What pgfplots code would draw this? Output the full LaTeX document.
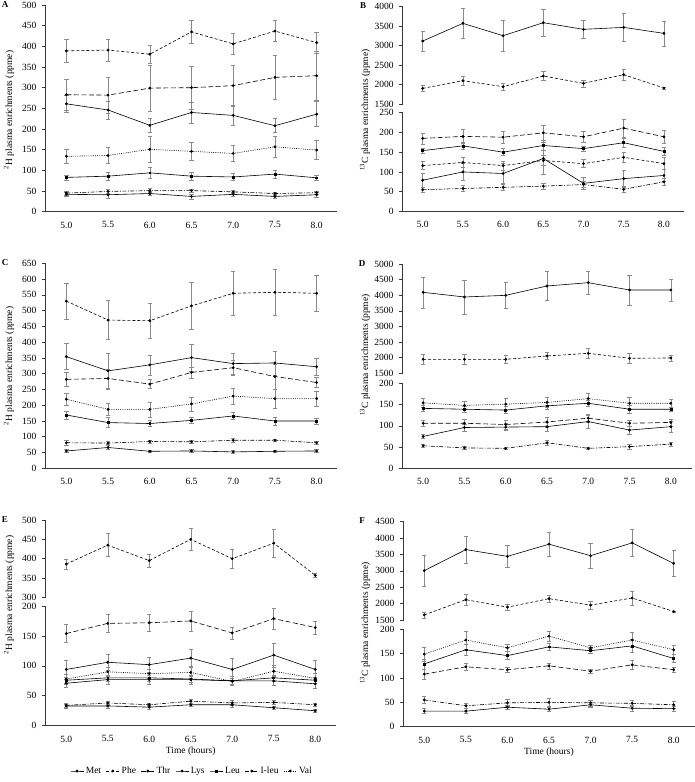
\documentclass[border=0pt]{standalone}
\usepackage{fontspec}
\setmainfont{Liberation Serif}
\usepackage{pgfplots}
\pgfplotsset{compat=1.18}

\definecolor{ax}{HTML}{3A3A3A}
\definecolor{errc}{HTML}{8A8A8A}

\pgfplotsset{
  panel/.style={
    scale only axis, clip=false,
    xmin=4.75, xmax=8.25,
    axis x line*=bottom, axis y line*=left,
    axis line style={draw=ax, line width=0.6pt, -},
    xtick={5,5.5,6,6.5,7,7.5,8},
    xticklabels={5.0,5.5,6.0,6.5,7.0,7.5,8.0},
    x tick style={draw=none},
    y tick style={draw=ax, line width=0.6pt},
    tick align=outside, major tick length=3.5pt,
    tick label style={font=\fontsize{9.5}{11}\selectfont},
    yticklabel style={xshift=-2pt},
    xticklabel style={yshift=-3pt},
    /pgf/number format/assume math mode=true,
    /pgf/number format/1000 sep={},
    xlabel style={font=\fontsize{9.5}{11}\selectfont, yshift=2pt},
  },
  upper/.style={panel, hide x axis},
  mk/.style={black, line width=0.6pt, mark=*, mark size=1.1pt, mark options={solid}},
  eb/.style={
    /pgfplots/error bars/y dir=both,
    /pgfplots/error bars/y explicit,
    /pgfplots/error bars/error bar style={errc, line width=0.5pt, solid},
    /pgfplots/error bars/error mark options={rotate=90, errc, mark size=2.2pt, line width=0.5pt, solid}},
  Met/.style={mk},
  Phe/.style={mk, dash pattern=on 3pt off 2pt},
  Thr/.style={mk, dash pattern=on 5pt off 2.5pt},
  Lys/.style={mk},
  Leu/.style={mk, mark=square*, mark size=0.95pt},
  Ile/.style={mk, dash pattern=on 4pt off 1.5pt on 1pt off 1.5pt},
  Val/.style={mk, dash pattern=on 1pt off 1.2pt},
}

\begin{document}
\begin{tikzpicture}
\useasboundingbox (0,0) rectangle (695pt,-782pt);

% ---------- A : 2H ----------
\begin{axis}[panel, at={(45.5pt,-211.7pt)}, anchor=south west,
  width=292pt, height=206.7pt, ymin=0, ymax=500, ytick={0,50,...,500}]
  \addplot[Phe,eb] coordinates {(5.0,389)+-(0,27) (5.5,391)+-(0,26) (6.0,381)+-(0,22) (6.5,435)+-(0,28) (7.0,406)+-(0,25) (7.5,437)+-(0,25) (8.0,409)+-(0,25)};
  \addplot[Thr,eb] coordinates {(5.0,283)+-(0,37) (5.5,282)+-(0,44) (6.0,299)+-(0,55) (6.5,300)+-(0,52) (7.0,305)+-(0,50) (7.5,325)+-(0,54) (8.0,329)+-(0,60)};
  \addplot[Lys,eb] coordinates {(5.0,261)+-(0,20) (5.5,246)+-(0,22) (6.0,209)+-(0,17) (6.5,240)+-(0,25) (7.0,233)+-(0,25) (7.5,208)+-(0,17) (8.0,236)+-(0,30)};
  \addplot[Val,eb] coordinates {(5.0,134)+-(0,17) (5.5,136)+-(0,19) (6.0,151)+-(0,32) (6.5,146)+-(0,22) (7.0,141)+-(0,20) (7.5,157)+-(0,25) (8.0,149)+-(0,23)};
  \addplot[Leu,eb] coordinates {(5.0,83)+-(0,6) (5.5,86)+-(0,10) (6.0,94)+-(0,14) (6.5,86)+-(0,10) (7.0,84)+-(0,8) (7.5,91)+-(0,10) (8.0,82)+-(0,7)};
  \addplot[Ile,eb] coordinates {(5.0,45)+-(0,4) (5.5,49)+-(0,5) (6.0,51)+-(0,5) (6.5,51)+-(0,4) (7.0,48)+-(0,4) (7.5,44)+-(0,4) (8.0,46)+-(0,4)};
  \addplot[Met,eb] coordinates {(5.0,42)+-(0,4) (5.5,41)+-(0,8) (6.0,44)+-(0,5) (6.5,37)+-(0,6) (7.0,42)+-(0,5) (7.5,37)+-(0,5) (8.0,41)+-(0,5)};
\end{axis}

% ---------- B : 13C ----------
\begin{axis}[upper, at={(402.6pt,-104pt)}, anchor=south west,
  width=281.4pt, height=97.3pt, ymin=1500, ymax=4000, ytick={1500,2000,...,4000}]
  \addplot[Lys,eb] coordinates {(5.0,3118)+-(0,257) (5.5,3572)+-(0,377) (6.0,3255)+-(0,398) (6.5,3589)+-(0,350) (7.0,3418)+-(0,223) (7.5,3469)+-(0,351) (8.0,3315)+-(0,321)};
  \addplot[Phe,eb] coordinates {(5.0,1902)+-(0,70) (5.5,2099)+-(0,120) (6.0,1945)+-(0,100) (6.5,2219)+-(0,120) (7.0,2031)+-(0,90) (7.5,2253)+-(0,150) (8.0,1911)+-(0,20)};
\end{axis}
\begin{axis}[panel, at={(402.6pt,-211.4pt)}, anchor=south west,
  width=281.4pt, height=98.7pt, ymin=0, ymax=250, ytick={0,50,...,250}]
  \addplot[Thr,eb] coordinates {(5.0,185)+-(0,14) (5.5,190)+-(0,17) (6.0,188)+-(0,15) (6.5,199)+-(0,18) (7.0,189)+-(0,15) (7.5,211)+-(0,22) (8.0,189)+-(0,17)};
  \addplot[Leu,eb] coordinates {(5.0,154)+-(0,6) (5.5,166)+-(0,8) (6.0,150)+-(0,9) (6.5,167)+-(0,12) (7.0,159)+-(0,7) (7.5,174)+-(0,11) (8.0,152)+-(0,10)};
  \addplot[Phe,eb] coordinates {(5.0,116)+-(0,10) (5.5,124)+-(0,13) (6.0,116)+-(0,11) (6.5,129)+-(0,12) (7.0,121)+-(0,10) (7.5,137)+-(0,13) (8.0,121)+-(0,15)};
  \addplot[Met,eb] coordinates {(5.0,79)+-(0,18) (5.5,100)+-(0,22) (6.0,96)+-(0,25) (6.5,134)+-(0,40) (7.0,71)+-(0,15) (7.5,83)+-(0,22) (8.0,91)+-(0,15)};
  \addplot[Ile,eb] coordinates {(5.0,55)+-(0,7) (5.5,58)+-(0,7) (6.0,61)+-(0,8) (6.5,64)+-(0,7) (7.0,68)+-(0,8) (7.5,56)+-(0,8) (8.0,75)+-(0,9)};
\end{axis}

% ---------- C : 2H ----------
\begin{axis}[panel, at={(45.5pt,-468.3pt)}, anchor=south west,
  width=292pt, height=205pt, ymin=0, ymax=650, ytick={0,50,...,650}]
  \addplot[Phe,eb] coordinates {(5.0,530)+-(0,58) (5.5,470)+-(0,62) (6.0,468)+-(0,56) (6.5,515)+-(0,74) (7.0,555)+-(0,70) (7.5,558)+-(0,72) (8.0,555)+-(0,57)};
  \addplot[Lys,eb] coordinates {(5.0,354)+-(0,41) (5.5,309)+-(0,57) (6.0,328)+-(0,32) (6.5,351)+-(0,43) (7.0,332)+-(0,33) (7.5,334)+-(0,38) (8.0,322)+-(0,26)};
  \addplot[Thr,eb] coordinates {(5.0,282)+-(0,22) (5.5,285)+-(0,30) (6.0,267)+-(0,14) (6.5,304)+-(0,18) (7.0,319)+-(0,24) (7.5,291)+-(0,40) (8.0,272)+-(0,16)};
  \addplot[Val,eb] coordinates {(5.0,219)+-(0,20) (5.5,187)+-(0,20) (6.0,187)+-(0,24) (6.5,204)+-(0,22) (7.0,229)+-(0,26) (7.5,221)+-(0,30) (8.0,221)+-(0,24)};
  \addplot[Leu,eb] coordinates {(5.0,169)+-(0,12) (5.5,145)+-(0,16) (6.0,142)+-(0,10) (6.5,152)+-(0,9) (7.0,166)+-(0,12) (7.5,150)+-(0,12) (8.0,150)+-(0,10)};
  \addplot[Ile,eb] coordinates {(5.0,81)+-(0,7) (5.5,80)+-(0,5) (6.0,85)+-(0,5) (6.5,84)+-(0,6) (7.0,89)+-(0,5) (7.5,89)+-(0,4) (8.0,81)+-(0,5)};
  \addplot[Met,eb] coordinates {(5.0,55)+-(0,4) (5.5,66)+-(0,6) (6.0,54)+-(0,3) (6.5,55)+-(0,4) (7.0,52)+-(0,4) (7.5,54)+-(0,4) (8.0,55)+-(0,4)};
\end{axis}

% ---------- D : 13C ----------
\begin{axis}[upper, at={(402.5pt,-373.3pt)}, anchor=south west,
  width=289pt, height=109.3pt, ymin=1500, ymax=5000, ytick={1500,2000,...,5000}]
  \addplot[Lys,eb] coordinates {(5.0,4093)+-(0,496) (5.5,3944)+-(0,550) (6.0,3997)+-(0,420) (6.5,4296)+-(0,460) (7.0,4402)+-(0,357) (7.5,4168)+-(0,475) (8.0,4168)+-(0,352)};
  \addplot[Phe,eb] coordinates {(5.0,1948)+-(0,160) (5.5,1948)+-(0,160) (6.0,1948)+-(0,120) (6.5,2055)+-(0,120) (7.0,2140)+-(0,150) (7.5,1980)+-(0,160) (8.0,1991)+-(0,100)};
\end{axis}
\begin{axis}[panel, at={(402.5pt,-468.3pt)}, anchor=south west,
  width=289pt, height=85pt, ymin=0, ymax=200, ytick={0,50,...,200}]
  \addplot[Val,eb] coordinates {(5.0,154)+-(0,10) (5.5,148)+-(0,10) (6.0,151)+-(0,14) (6.5,155)+-(0,12) (7.0,164)+-(0,12) (7.5,153)+-(0,14) (8.0,153)+-(0,10)};
  \addplot[Leu,eb] coordinates {(5.0,141)+-(0,7) (5.5,139)+-(0,7) (6.0,137)+-(0,8) (6.5,147)+-(0,8) (7.0,153)+-(0,8) (7.5,139)+-(0,9) (8.0,139)+-(0,5)};
  \addplot[Thr,eb] coordinates {(5.0,106)+-(0,8) (5.5,106)+-(0,10) (6.0,103)+-(0,10) (6.5,109)+-(0,12) (7.0,118)+-(0,10) (7.5,106)+-(0,8) (8.0,108)+-(0,8)};
  \addplot[Met,eb] coordinates {(5.0,75)+-(0,5) (5.5,96)+-(0,8) (6.0,97)+-(0,8) (6.5,98)+-(0,10) (7.0,110)+-(0,15) (7.5,90)+-(0,10) (8.0,98)+-(0,12)};
  \addplot[Ile,eb] coordinates {(5.0,53)+-(0,3) (5.5,48)+-(0,4) (6.0,47)+-(0,3) (6.5,60)+-(0,5) (7.0,47)+-(0,3) (7.5,51)+-(0,5) (8.0,57)+-(0,4)};
\end{axis}

% ---------- E : 2H ----------
\begin{axis}[upper, at={(45.5pt,-597.3pt)}, anchor=south west,
  width=290.5pt, height=77.3pt, ymin=300, ymax=500, ytick={300,350,...,500}]
  \addplot[Phe,eb] coordinates {(5.0,386)+-(0,13) (5.5,435)+-(0,30) (6.0,395)+-(0,17) (6.5,450)+-(0,29) (7.0,400)+-(0,25) (7.5,440)+-(0,36) (8.0,357)+-(0,6)};
\end{axis}
\begin{axis}[panel, at={(45.5pt,-725.7pt)}, anchor=south west,
  width=290.5pt, height=119.7pt, ymin=0, ymax=200, ytick={0,50,...,200},
  xlabel={Time (hours)}]
  \addplot[Thr,eb] coordinates {(5.0,154)+-(0,15) (5.5,171)+-(0,15) (6.0,172)+-(0,14) (6.5,175)+-(0,17) (7.0,155)+-(0,10) (7.5,179)+-(0,17) (8.0,164)+-(0,11)};
  \addplot[Lys,eb] coordinates {(5.0,94)+-(0,16) (5.5,106)+-(0,13) (6.0,102)+-(0,12) (6.5,113)+-(0,15) (7.0,94)+-(0,18) (7.5,118)+-(0,20) (8.0,94)+-(0,16)};
  \addplot[Val,eb] coordinates {(5.0,78)+-(0,8) (5.5,90)+-(0,8) (6.0,87)+-(0,8) (6.5,89)+-(0,10) (7.0,74)+-(0,6) (7.5,91)+-(0,10) (8.0,79)+-(0,8)};
  \addplot[Leu,eb] coordinates {(5.0,76)+-(0,5) (5.5,80)+-(0,5) (6.0,80)+-(0,5) (6.5,78)+-(0,5) (7.0,75)+-(0,5) (7.5,80)+-(0,5) (8.0,76)+-(0,5)};
  \addplot[Met,eb] coordinates {(5.0,71)+-(0,7) (5.5,77)+-(0,7) (6.0,77)+-(0,7) (6.5,77)+-(0,7) (7.0,75)+-(0,7) (7.5,75)+-(0,7) (8.0,70)+-(0,7)};
  \addplot[Ile,eb] coordinates {(5.0,34)+-(0,3) (5.5,38)+-(0,3) (6.0,35)+-(0,3) (6.5,41)+-(0,4) (7.0,38)+-(0,4) (7.5,39)+-(0,3) (8.0,35)+-(0,3)};
  \addplot[Met,eb] coordinates {(5.0,33)+-(0,3) (5.5,33)+-(0,3) (6.0,31)+-(0,3) (6.5,35)+-(0,3) (7.0,35)+-(0,4) (7.5,30)+-(0,3) (8.0,25)+-(0,3)};
\end{axis}

% ---------- F : 13C ----------
\begin{axis}[upper, at={(403.5pt,-620pt)}, anchor=south west,
  width=291pt, height=98.3pt, ymin=1500, ymax=4500, ytick={1500,2000,...,4500}]
  \addplot[Lys,eb] coordinates {(5.0,3008)+-(0,465) (5.5,3649)+-(0,413) (6.0,3442)+-(0,340) (6.5,3814)+-(0,366) (7.0,3463)+-(0,387) (7.5,3855)+-(0,413) (8.0,3225)+-(0,398)};
  \addplot[Phe,eb] coordinates {(5.0,1655)+-(0,90) (5.5,2120)+-(0,170) (6.0,1893)+-(0,80) (6.5,2151)+-(0,110) (7.0,1955)+-(0,120) (7.5,2172)+-(0,210) (8.0,1758)+-(0,20)};
\end{axis}
\begin{axis}[panel, at={(403.5pt,-726.7pt)}, anchor=south west,
  width=291pt, height=97.4pt, ymin=0, ymax=200, ytick={0,50,...,200},
  xlabel={Time (hours)}]
  \addplot[Val,eb] coordinates {(5.0,149)+-(0,14) (5.5,178)+-(0,18) (6.0,162)+-(0,8) (6.5,186)+-(0,10) (7.0,162)+-(0,5) (7.5,178)+-(0,15) (8.0,158)+-(0,10)};
  \addplot[Leu,eb] coordinates {(5.0,129)+-(0,10) (5.5,158)+-(0,12) (6.0,146)+-(0,8) (6.5,164)+-(0,8) (7.0,156)+-(0,5) (7.5,166)+-(0,14) (8.0,140)+-(0,8)};
  \addplot[Thr,eb] coordinates {(5.0,108)+-(0,10) (5.5,123)+-(0,7) (6.0,117)+-(0,6) (6.5,125)+-(0,6) (7.0,114)+-(0,5) (7.5,127)+-(0,9) (8.0,117)+-(0,6)};
  \addplot[Ile,eb] coordinates {(5.0,55)+-(0,7) (5.5,43)+-(0,5) (6.0,49)+-(0,7) (6.5,50)+-(0,8) (7.0,49)+-(0,6) (7.5,48)+-(0,6) (8.0,45)+-(0,7)};
  \addplot[Met,eb] coordinates {(5.0,32)+-(0,5) (5.5,32)+-(0,5) (6.0,40)+-(0,5) (6.5,36)+-(0,4) (7.0,45)+-(0,5) (7.5,38)+-(0,6) (8.0,37)+-(0,5)};
\end{axis}

% ---------- legend ----------
\begin{axis}[at={(192pt,-771pt)}, anchor=center, hide axis, scale only axis,
  width=10pt, height=10pt, xmin=0, xmax=1, ymin=0, ymax=1,
  legend columns=-1,
  legend style={draw=none, fill=none, at={(0.5,0.5)}, anchor=center,
    font=\fontsize{9.5}{11}\selectfont, inner sep=0pt,
    /tikz/every even column/.append style={column sep=3pt}},
  legend image code/.code={\draw[mark repeat=2, mark phase=2, #1] plot coordinates {(0pt,0pt) (6.5pt,0pt) (13pt,0pt)};}]
  \addlegendimage{Met}\addlegendentry{Met}
  \addlegendimage{Phe}\addlegendentry{Phe}
  \addlegendimage{Thr}\addlegendentry{Thr}
  \addlegendimage{Lys}\addlegendentry{Lys}
  \addlegendimage{Leu}\addlegendentry{Leu}
  \addlegendimage{Ile}\addlegendentry{I-leu}
  \addlegendimage{Val}\addlegendentry{Val}
\end{axis}

% ---------- panel letters and y labels ----------
\begin{scope}[font=\fontsize{9.5}{11}\selectfont]
  \node[font=\fontsize{9}{10}\selectfont\bfseries] at (5pt,-5pt) {A};
  \node[font=\fontsize{9}{10}\selectfont\bfseries] at (363pt,-6pt) {B};
  \node[font=\fontsize{9}{10}\selectfont\bfseries] at (5pt,-263pt) {C};
  \node[font=\fontsize{9}{10}\selectfont\bfseries] at (362pt,-264pt) {D};
  \node[font=\fontsize{9}{10}\selectfont\bfseries] at (5pt,-520pt) {E};
  \node[font=\fontsize{9}{10}\selectfont\bfseries] at (362pt,-521pt) {F};
  \node[rotate=90] at (9pt,-110pt) {\textsuperscript{2}H plasma enrichments (ppme)};
  \node[rotate=90] at (365pt,-110pt) {\textsuperscript{13}C plasma enrichments (ppme)};
  \node[rotate=90] at (9pt,-366pt) {\textsuperscript{2}H plasma enrichments (ppme)};
  \node[rotate=90] at (365pt,-355pt) {\textsuperscript{13}C plasma enrichments (ppme)};
  \node[rotate=90] at (9pt,-595pt) {\textsuperscript{2}H plasma enrichments (ppme)};
  \node[rotate=90] at (365pt,-623pt) {\textsuperscript{13}C plasma enrichments (ppme)};
\end{scope}
\end{tikzpicture}
\end{document}
